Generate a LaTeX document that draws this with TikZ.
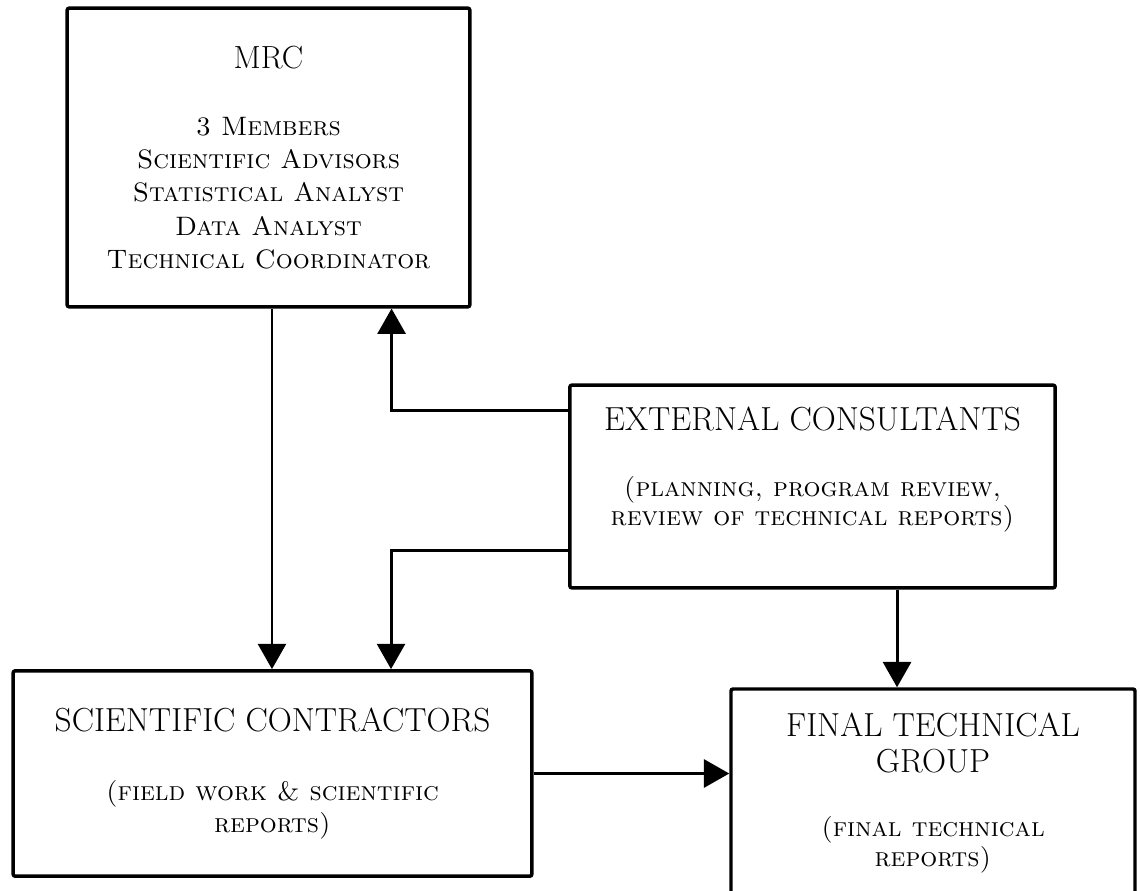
\documentclass[tikz,border=0pt]{standalone}
\usetikzlibrary{arrows.meta}
\usetikzlibrary{positioning}
\usetikzlibrary{calc}
\tikzset{
	>={Triangle[width=21pt,length=19pt]},
	orgbox/.style={
		rectangle,
		rounded corners=1.5pt,
		draw=black, line width=2.6pt,
		align=center,
		inner sep=0pt},
	line/.style={draw, line width=2.2pt, ->},
}
\newcommand{\boxtitle}[1]{{\fontsize{25}{24}\selectfont #1}}

\begin{document}
\begin{tikzpicture}[x=0.75pt,y=-0.75pt]
	\useasboundingbox (0,0) rectangle (1140,890);
	% the four groups
	\node[orgbox, minimum width=302pt, minimum height=224pt,
		font=\fontsize{20}{25}\selectfont] (mrc) at (268.5,157.5)
		{{\fontsize{24}{25}\selectfont MRC}\\[25pt]
		\textsc{3 Members}\\
		\textsc{Scientific Advisors}\\
		\textsc{Statistical Analyst}\\
		\textsc{Data Analyst}\\
		\textsc{Technical Coordinator}};
	\node[orgbox, minimum width=364pt, minimum height=152pt,
		font=\fontsize{20}{22}\selectfont] (ext) at (812.5,486.5)
		{\boxtitle{EXTERNAL CONSULTANTS}\\[27pt]
		\textsc{(planning,\ program review,}\\
		\textsc{review of technical reports)}\\[8pt]\mbox{}};
	\node[orgbox, minimum width=389pt, minimum height=154pt,
		font=\fontsize{20}{24}\selectfont] (sci) at (272.5,773.5)
		{\boxtitle{SCIENTIFIC CONTRACTORS}\\[28pt]
		\textsc{(field work \& scientific}\\
		\textsc{reports)}};
	\node[orgbox, minimum width=303pt, minimum height=156pt,
		font=\fontsize{20}{22}\selectfont] (fin) at (933,793)
		{\boxtitle{FINAL TECHNICAL}\\[5pt]
		\boxtitle{GROUP}\\[26pt]
		\textsc{(final technical}\\
		\textsc{reports)}};

	% connectors
	\draw[line] ([xshift=2.6pt]mrc.south) -- ([xshift=2.6pt]mrc.south |- sci.north);
	\draw[line] ([yshift=-20.25pt]ext.north west) -| ([xshift=-60pt]mrc.south east);
	\draw[line] ([yshift=29.25pt]ext.south west) -| ([xshift=88.9pt]sci.north);
	\draw[line] ([xshift=63.4pt]ext.south) -- ([xshift=63.4pt]ext.south |- fin.north);
	\draw[line] (sci.east) -- (sci.east -| fin.west);
\end{tikzpicture}
\end{document}
